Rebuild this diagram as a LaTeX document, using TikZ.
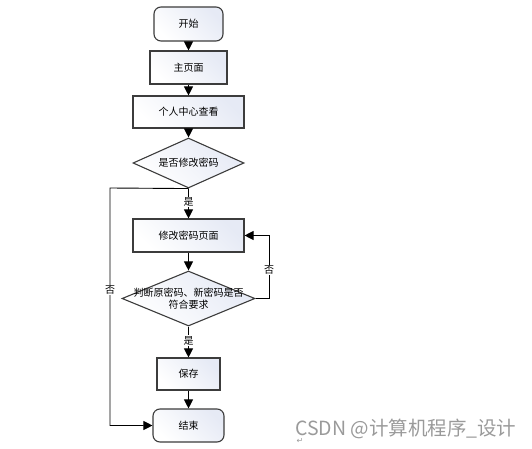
\documentclass[tikz,border=0pt]{standalone}
\usepackage{fontspec}
\setmainfont{Noto Sans CJK SC}
\newfontfamily\djv{DejaVu Sans}
\usetikzlibrary{shapes.geometric,arrows.meta}
\definecolor{boxline}{HTML}{3C3C3C}
\definecolor{boxfill}{HTML}{E6EAF5}
\definecolor{wm}{HTML}{9A9A9A}
\tikzset{
  basebox/.style={draw=boxline,line width=1.1pt,left color=boxfill,right color=white,shading angle=-45,inner sep=0pt,font=\fontsize{10}{11}\selectfont},
  procbox/.style={basebox,rectangle},
  termbox/.style={basebox,rectangle,rounded corners=7pt},
  decbox/.style={basebox,diamond},
  txt/.style={inner sep=0pt,align=center,font=\fontsize{10}{12.5}\selectfont},
  conn/.style={line width=0.9pt,draw=black,-{Triangle[width=9pt,length=9pt]}},
  lbl/.style={fill=white,inner sep=1pt,font=\fontsize{10}{11}\selectfont}
}
\begin{document}
\begin{tikzpicture}[x=1pt,y=-1pt]
\useasboundingbox (0,0) rectangle (532,449);
\node[termbox,minimum width=69pt,minimum height=34pt] (start) at (188.5,24) {开始};
\node[procbox,minimum width=77pt,minimum height=33pt] (main) at (188.5,67.5) {主页面};
\node[procbox,minimum width=111pt,minimum height=32pt] (center) at (188.5,112) {个人中心查看};
\node[decbox,minimum width=111pt,minimum height=50pt] (d1) at (188.5,163) {};
\node[txt] (d1t) at (188.5,163) {是否修改密码};
\node[procbox,minimum width=111pt,minimum height=33pt] (edit) at (188.5,235.5) {修改密码页面};
\node[decbox,minimum width=133pt,minimum height=55pt] (d2) at (188.5,298.5) {};
\node[txt] (d2t) at (188.5,298.5) {判断原密码、新密码是否\\符合要求};
\node[procbox,minimum width=63pt,minimum height=32pt] (save) at (188.5,374) {保存};
\node[termbox,minimum width=71pt,minimum height=33pt] (end) at (188.5,425.5) {结束};
\coordinate (lc1) at (110,188);
\coordinate (lc2) at (110,425.5);
\coordinate (rc1) at (269,298.5);
\coordinate (rc2) at (269,235.5);
\draw[conn] (start) -- (main);
\draw[conn] (main) -- (center);
\draw[conn] (center) -- (d1);
\draw[conn] (d1.south) -- node[lbl,pos=0.45] (yes1) {是} (edit.north);
\draw[conn] (edit) -- (d2);
\draw[conn] (d2.south) -- node[lbl,pos=0.45] (yes2) {是} (save.north);
\draw[conn] (save) -- (end);
\draw[conn] (d1.south) -- (lc1) -- node[lbl,pos=0.43] (no1) {否} (lc2) -- (end.west);
\draw[conn] (d2.east) -- (rc1) -- node[lbl,pos=0.45] (no2) {否} (rc2) -- (edit.east);
\node[text=wm,font=\fontsize{19.5}{21}\selectfont,anchor=west,inner sep=0pt] (wmark) at (295,429) {CSDN @计算机程序\_设计};
\node[text=wm,font=\djv\fontsize{8}{9}\selectfont,inner sep=0pt] (ret) at (300,441) {↵};
\end{tikzpicture}
\end{document}
